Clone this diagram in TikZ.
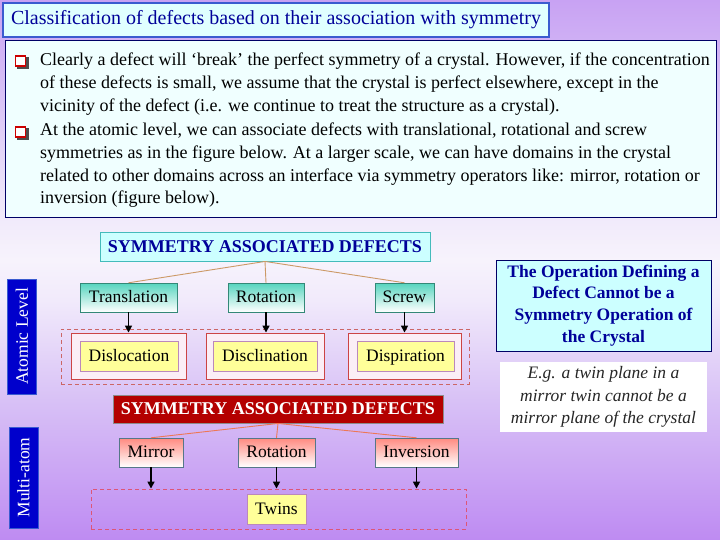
\documentclass[tikz,border=0pt]{standalone}
\usepackage{fontspec}
\setmainfont{Liberation Serif}
\usetikzlibrary{arrows.meta}
\definecolor{bgtop}{HTML}{C8A2F3}
\definecolor{bgc440}{HTML}{D9C3F6}
\definecolor{bgc340}{HTML}{EEE6FA}
\definecolor{bgmid}{HTML}{F7F3FC}
\definecolor{bgc240}{HTML}{F1EAFB}
\definecolor{bgc140}{HTML}{D8C1F6}
\definecolor{bgbot}{HTML}{BE8BF2}
\pgfdeclareverticalshading{bgshade}{100bp}{color(0bp)=(bgbot); color(25bp)=(bgbot); color(37.96bp)=(bgc140); color(47.22bp)=(bgc240); color(50.93bp)=(bgmid); color(56.48bp)=(bgc340); color(65.74bp)=(bgc440); color(75bp)=(bgtop); color(100bp)=(bgtop)}
\definecolor{titlefill}{HTML}{E0FFFF}
\definecolor{titleborder}{HTML}{3A5BD0}
\definecolor{navy}{HTML}{000066}
\definecolor{darkblue}{HTML}{000099}
\definecolor{mainfill}{HTML}{F0FFFF}
\definecolor{cyanfill}{HTML}{CCFFFF}
\definecolor{cyanborder}{HTML}{44BBBB}
\definecolor{tealtop}{HTML}{55D4BE}
\definecolor{tealborder}{HTML}{338877}
\definecolor{salmontop}{HTML}{FF8A80}
\definecolor{salmonborder}{HTML}{557788}
\definecolor{tanline}{HTML}{CC9966}
\definecolor{salmonline}{HTML}{EE7755}
\definecolor{redbox}{HTML}{CC4444}
\definecolor{pinkfill}{HTML}{FBEEF6}
\definecolor{yellowfill}{HTML}{FFFF99}
\definecolor{mauve}{HTML}{BB88BB}
\definecolor{dashred}{HTML}{CC6666}
\definecolor{dashpink}{HTML}{DD5577}
\definecolor{darkred}{HTML}{B40000}
\definecolor{labelblue}{HTML}{0000CC}
\definecolor{bulletred}{HTML}{CC0000}
\begin{document}
\begin{tikzpicture}[x=1pt,y=-1pt,
  bodytext/.style={anchor=base west,inner sep=0pt,font=\fontsize{18}{20}\selectfont},
  boxbase/.style={draw,inner sep=0pt,text height=13pt,text depth=3pt,font=\fontsize{17.5}{20}\selectfont},
  tealbox/.style={boxbase,draw=tealborder,top color=tealtop,bottom color=white,minimum height=29},
  salmonbox/.style={boxbase,draw=salmonborder,top color=salmontop,bottom color=white,minimum height=29},
  outerred/.style={draw=redbox,line width=0.9pt,fill=pinkfill,minimum height=46,inner sep=0pt},
  yellowbox/.style={boxbase,draw=mauve,fill=yellowfill,minimum height=30},
  dashbox/.style={dashed,dash pattern=on 4pt off 3pt,line width=0.9pt,inner sep=0pt},
  tanconn/.style={draw=tanline,line width=0.9pt},
  salconn/.style={draw=salmonline,line width=0.9pt},
  downarrow/.style={draw=black,line width=1.6pt,-{Triangle[length=7pt,width=7pt]}},
  sidelabel/.style={draw=titleborder,fill=labelblue,text=white,rotate=90,inner sep=0pt,minimum height=29,font=\fontsize{17.5}{20}\selectfont},
  bulletsq/.style={draw=bulletred,line width=1.8pt,fill=white,minimum size=10,inner sep=0pt}
]
\shade[shading=bgshade] (0,0) rectangle (720,540);
\useasboundingbox (0,0) rectangle (720,540);

% title
\node[draw=titleborder,line width=2.5pt,fill=titlefill,minimum width=546,minimum height=34,inner sep=0pt,text=darkblue,font=\fontsize{20}{22}\selectfont] (title) at (276,20) {Classification of defects based on their association with symmetry};

% main text box
\node[draw=navy,line width=0.9pt,fill=mainfill,minimum width=711,minimum height=177,inner sep=0pt] (main) at (360.5,128.5) {};
\fill[black!70] (16.5,57.5) rectangle (28.5,69.5);
\node[bulletsq] (b1) at (20.5,61) {};
\fill[black!70] (16.5,128.5) rectangle (28.5,140.5);
\node[bulletsq] (b2) at (20.5,132) {};
\node[bodytext] (l1) at (40,66) {Clearly a defect will ‘break’ the perfect symmetry of a crystal. However, if the concentration};
\node[bodytext] (l2) at (40,89) {of these defects is small, we assume that the crystal is perfect elsewhere, except in the};
\node[bodytext] (l3) at (40,112) {vicinity of the defect (i.e. we continue to treat the structure as a crystal).};
\node[bodytext] (l4) at (40,136) {At the atomic level, we can associate defects with translational, rotational and screw};
\node[bodytext] (l5) at (40,159) {symmetries as in the figure below. At a larger scale, we can have domains in the crystal};
\node[bodytext] (l6) at (40,182) {related to other domains across an interface via symmetry operators like: mirror, rotation or};
\node[bodytext] (l7) at (40,204) {inversion (figure below).};

% atomic level block
\node[draw=cyanborder,line width=0.9pt,fill=cyanfill,minimum width=330,minimum height=29,inner sep=0pt,text=darkblue,font=\bfseries\fontsize{18}{20}\selectfont] (sym1) at (265,246.5) {SYMMETRY ASSOCIATED DEFECTS};
\node[tealbox,minimum width=97] (trans) at (128.5,297.5) {Translation};
\node[tealbox,minimum width=76] (rot1) at (266,297.5) {Rotation};
\node[tealbox,minimum width=59] (screw) at (404.5,297.5) {Screw};
\draw[tanconn] (sym1.south) -- (trans.north);
\draw[tanconn] (sym1.south) -- (rot1.north);
\draw[tanconn] (sym1.south) -- (screw.north);

\node[dashbox,draw=dashred,minimum width=408,minimum height=55] (dash1) at (265,356.5) {};
\node[outerred,minimum width=115] (o1) at (128.5,356) {};
\node[outerred,minimum width=118] (o2) at (265,356) {};
\node[outerred,minimum width=113] (o3) at (404.5,356) {};
\node[yellowbox,minimum width=98] (disloc) at (129,356) {Dislocation};
\node[yellowbox,minimum width=104] (disclin) at (265,356) {Disclination};
\node[yellowbox,minimum width=97] (dispir) at (405.5,356) {Dispiration};
\draw[downarrow] (trans.south) -- (trans.south |- o1.north);
\draw[downarrow] (rot1.south) -- (rot1.south |- o2.north);
\draw[downarrow] (screw.south) -- (screw.south |- o3.north);

\node[sidelabel,minimum width=115] (atomic) at (22,336.5) {Atomic Level};

% multi-atom block
\node[draw=black!45,line width=0.9pt,fill=darkred,minimum width=330,minimum height=28,inner sep=0pt,text=white,font=\bfseries\fontsize{18}{20}\selectfont] (sym2) at (278,409) {SYMMETRY ASSOCIATED DEFECTS};
\node[salmonbox,minimum width=64] (mirror) at (151,452.5) {Mirror};
\node[salmonbox,minimum width=77] (rot2) at (276.5,452.5) {Rotation};
\node[salmonbox,minimum width=83] (inv) at (416.5,452.5) {Inversion};
\draw[salconn] (sym2.south) -- (mirror.north);
\draw[salconn] (sym2.south) -- (rot2.north);
\draw[salconn] (sym2.south) -- (inv.north);
\node[dashbox,draw=dashpink,minimum width=375,minimum height=40] (dash2) at (278.5,509) {};
\node[yellowbox,minimum width=59] (twins) at (276.5,509) {Twins};
\draw[downarrow] (mirror.south) -- (mirror.south |- dash2.north);
\draw[downarrow] (rot2.south) -- (rot2.south |- dash2.north);
\draw[downarrow] (inv.south) -- (inv.south |- dash2.north);

\node[sidelabel,minimum width=101] (multi) at (23.5,477.5) {Multi-atom};

% right side
\node[draw=navy,line width=0.9pt,fill=cyanfill,minimum width=215,minimum height=91,inner sep=0pt,align=center,text=darkblue,font=\bfseries\fontsize{17.5}{21.7}\selectfont] (op) at (603.5,305.5) {The Operation Defining a\\Defect Cannot be a\\Symmetry Operation of\\the Crystal};
\node[fill=white,minimum width=207,minimum height=70,inner sep=0pt,align=center,text=black!85,font=\itshape\fontsize{17.5}{22.5}\selectfont] (eg) at (603.5,397) {E.g. a twin plane in a\\mirror twin cannot be a\\mirror plane of the crystal};
\end{tikzpicture}
\end{document}
